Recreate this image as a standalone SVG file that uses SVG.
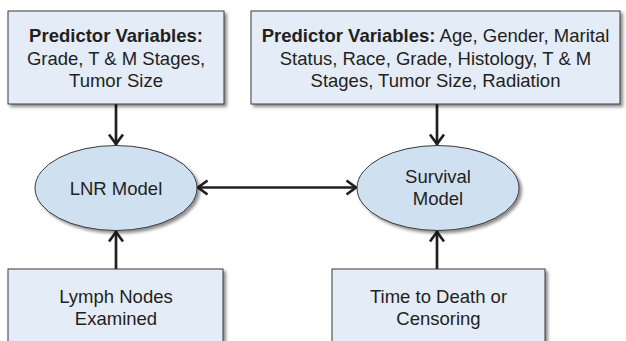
<svg xmlns="http://www.w3.org/2000/svg" width="626" height="341" viewBox="0 0 626 341">
  <style>
    .box { fill: #e4ecf7; stroke: #3a3a3a; stroke-width: 1; filter: url(#shadow); }
    .ell { fill: #cfe0f1; stroke: #3a3a3a; stroke-width: 1; filter: url(#shadow); }
    text { font-family: "Liberation Sans", Arial, sans-serif; font-size: 18.5px; fill: #231f20; text-anchor: middle; }
    .b { font-weight: bold; }
    .conn { stroke: #231f20; stroke-width: 2.7; fill: none; marker-end: url(#chev); }
  </style>
  <defs>
    <filter id="shadow" x="-10%" y="-10%" width="125%" height="130%">
      <feDropShadow dx="2.5" dy="2.5" stdDeviation="1.6" flood-color="#000" flood-opacity="0.45"/>
    </filter>
    <marker id="chev" markerUnits="userSpaceOnUse" viewBox="-14 -9 16 18" refX="0" refY="0" markerWidth="16" markerHeight="18" orient="auto-start-reverse">
      <path d="M-10.5,-7 L-1,0 L-10.5,7" fill="none" stroke="#231f20" stroke-width="2.7" stroke-linejoin="miter"/>
    </marker>
  </defs>

  <g id="connectors">
    <line class="conn" x1="116" y1="104" x2="116" y2="145"/>
    <line class="conn" x1="437" y1="104" x2="437" y2="145"/>
    <line class="conn" x1="116" y1="269" x2="116" y2="231"/>
    <line class="conn" x1="437" y1="269" x2="437" y2="231"/>
    <line class="conn" x1="197" y1="187.5" x2="357" y2="187.5" marker-start="url(#chev)"/>
  </g>

  <g id="pred-lnr">
    <rect class="box" x="8" y="11" width="216" height="93"/>
    <text x="116" y="42"><tspan class="b">Predictor Variables:</tspan></text>
    <text x="116" y="64.5">Grade, T &amp; M Stages,</text>
    <text x="116" y="87">Tumor Size</text>
  </g>

  <g id="pred-surv">
    <rect class="box" x="251" y="11" width="369" height="93"/>
    <text x="435.5" y="42"><tspan class="b">Predictor Variables:</tspan> Age, Gender, Marital</text>
    <text x="435.5" y="64.5">Status, Race, Grade, Histology, T &amp; M</text>
    <text x="435.5" y="87">Stages, Tumor Size, Radiation</text>
  </g>

  <g id="lnr-model">
    <ellipse class="ell" cx="116" cy="188" rx="81" ry="42.5"/>
    <text x="116" y="194.5">LNR Model</text>
  </g>

  <g id="survival-model">
    <ellipse class="ell" cx="438" cy="188" rx="81" ry="42.5"/>
    <text x="438" y="183">Survival</text>
    <text x="438" y="205">Model</text>
  </g>

  <g id="lymph-nodes">
    <rect class="box" x="8" y="269" width="215" height="90"/>
    <text x="116" y="303">Lymph Nodes</text>
    <text x="116" y="325">Examined</text>
  </g>

  <g id="time-to-death">
    <rect class="box" x="332" y="269" width="213" height="90"/>
    <text x="438.5" y="303">Time to Death or</text>
    <text x="438.5" y="325">Censoring</text>
  </g>
</svg>
